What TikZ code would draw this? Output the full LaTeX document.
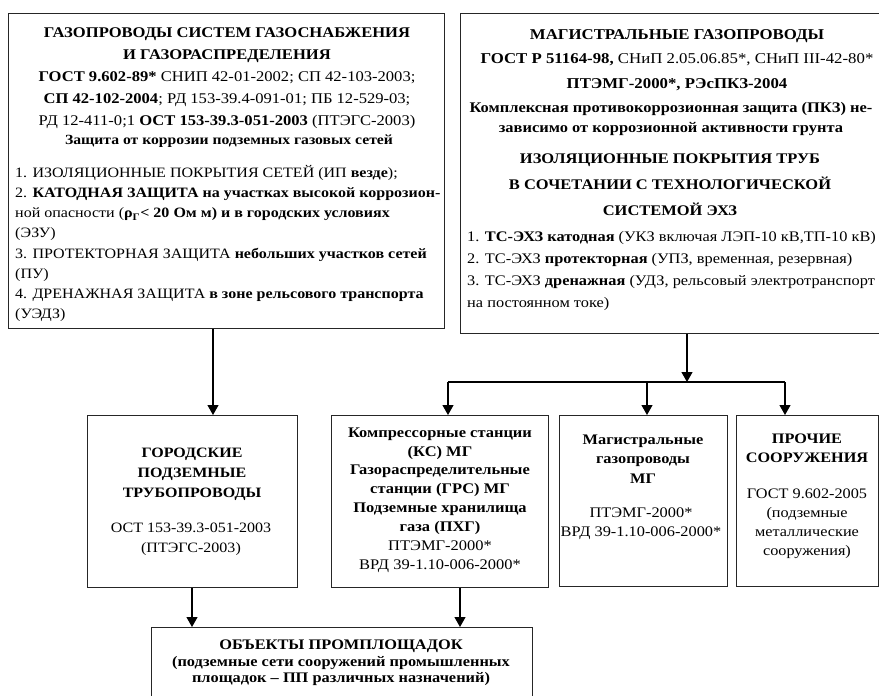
\documentclass[tikz,border=0pt]{standalone}
\usepackage{fontspec}
\setmainfont{Liberation Serif}[FakeStretch=1.12]
\usetikzlibrary{arrows.meta}
\begin{document}
\begin{tikzpicture}[x=1pt,y=-1pt,
  frame/.style={draw=black!85, line width=1.3pt, inner sep=0pt, anchor=north west},
  txt/.style={inner sep=0pt, text=black, align=center},
  arr/.style={line width=1.2pt, -{Triangle[width=11pt,length=10pt]}},
  ln/.style={line width=1.2pt}]
\useasboundingbox (0,0) rectangle (879,696);
\clip (0,0) rectangle (879,696);
% boxes
\node[frame, minimum width=436pt, minimum height=315pt] (gs) at (8,13) {};
\node[frame, minimum width=430pt, minimum height=320pt] (mg) at (460,13) {};
\node[frame, minimum width=210pt, minimum height=172pt] (gp) at (87,415) {};
\node[frame, minimum width=217pt, minimum height=172pt] (ks) at (331,415) {};
\node[frame, minimum width=168pt, minimum height=171pt] (mgb) at (559,415) {};
\node[frame, minimum width=142pt, minimum height=171pt] (pr) at (736,415) {};
\node[frame, minimum width=381pt, minimum height=90pt] (ob) at (151,627) {};
% helper coordinates
\coordinate (a1) at (213,0);
\coordinate (a2) at (687,0);
\coordinate (hl) at (0,382);
\coordinate (b1) at (448,0);
\coordinate (b2) at (647,0);
\coordinate (b3) at (785,0);
\coordinate (c1) at (192,0);
\coordinate (c2) at (460,0);
% connectors
\draw[arr] (a1 |- gs.south) -- (a1 |- gp.north);
\draw[arr] (a2 |- mg.south) -- (a2 |- hl);
\draw[ln] (b1 |- hl) -- (b3 |- hl);
\draw[arr] (b1 |- hl) -- (b1 |- ks.north);
\draw[arr] (b2 |- hl) -- (b2 |- mgb.north);
\draw[arr] (b3 |- hl) -- (b3 |- pr.north);
\draw[arr] (c1 |- gp.south) -- (c1 |- ob.north);
\draw[arr] (c2 |- ks.south) -- (c2 |- ob.north);
% left top box text
\node[txt, font=\fontsize{14.8}{22}\selectfont] (gsh) at (227,78)
 {\textbf{ГАЗОПРОВОДЫ СИСТЕМ ГАЗОСНАБЖЕНИЯ}\\
  \textbf{И ГАЗОРАСПРЕДЕЛЕНИЯ}\\
  \textbf{ГОСТ 9.602-89*} СНИП 42-01-2002; СП 42-103-2003;\\
  \textbf{СП 42-102-2004}; РД 153-39.4-091-01; ПБ 12-529-03;\\
  РД 12-411-0;1 \textbf{ОСТ 153-39.3-051-2003} (ПТЭГС-2003)};
\node[txt, font=\bfseries\fontsize{14}{18}\selectfont] (gsz) at (229,141)
 {Защита от коррозии подземных газовых сетей};
\node[txt, align=left, anchor=west, font=\fontsize{14.3}{20.1}\selectfont] (gsl) at (15,243.5)
 {1. ИЗОЛЯЦИОННЫЕ ПОКРЫТИЯ СЕТЕЙ (ИП \textbf{везде});\\
  2. \textbf{КАТОДНАЯ ЗАЩИТА на участках высокой коррозион-}\\
  ной опасности (\textbf{ρ\textsubscript{Г}< 20 Ом м) и в городских условиях}\\
  (ЭЗУ)\\
  3. ПРОТЕКТОРНАЯ ЗАЩИТА \textbf{небольших участков сетей}\\
  (ПУ)\\
  4. ДРЕНАЖНАЯ ЗАЩИТА \textbf{в зоне рельсового транспорта}\\
  (УЭДЗ)};
% right top box text
\node[txt, font=\fontsize{15}{24.5}\selectfont] (mgh) at (677,60)
 {\textbf{МАГИСТРАЛЬНЫЕ ГАЗОПРОВОДЫ}\\
  \textbf{ГОСТ Р 51164-98,} СНиП 2.05.06.85*, СНиП III-42-80*\\
  \textbf{ПТЭМГ-2000*, РЭсПКЗ-2004}};
\node[txt, font=\bfseries\fontsize{14.7}{20}\selectfont] (mgk) at (671,119)
 {Комплексная противокоррозионная защита (ПКЗ) не-\\
  зависимо от коррозионной активности грунта};
\node[txt, font=\bfseries\fontsize{14.7}{26}\selectfont] (mgi) at (670,185)
 {ИЗОЛЯЦИОННЫЕ ПОКРЫТИЯ ТРУБ\\
  В СОЧЕТАНИИ С ТЕХНОЛОГИЧЕСКОЙ\\
  СИСТЕМОЙ ЭХЗ};
\node[txt, align=left, anchor=west, font=\fontsize{14.6}{22}\selectfont] (mgl) at (467,271)
 {1. \textbf{ТС-ЭХЗ катодная} (УКЗ включая ЛЭП-10 кВ,ТП-10 кВ)\\
  2. ТС-ЭХЗ \textbf{протекторная} (УПЗ, временная, резервная)\\
  3. ТС-ЭХЗ \textbf{дренажная} (УДЗ, рельсовый электротранспорт\\
  на постоянном токе)};
% lower boxes text
\node[txt, font=\bfseries\fontsize{14.3}{20}\selectfont] (gpb) at (192,474)
 {ГОРОДСКИЕ\\ПОДЗЕМНЫЕ\\ТРУБОПРОВОДЫ};
\node[txt, font=\fontsize{14.3}{20}\selectfont] (gpr) at (191,539)
 {ОСТ 153-39.3-051-2003\\(ПТЭГС-2003)};
\node[txt, font=\fontsize{14.7}{18.9}\selectfont] (kst) at (440,500)
 {\textbf{Компрессорные станции}\\
  \textbf{(КС) МГ}\\
  \textbf{Газораспределительные}\\
  \textbf{станции (ГРС) МГ}\\
  \textbf{Подземные хранилища}\\
  \textbf{газа (ПХГ)}\\
  ПТЭМГ-2000*\\
  ВРД 39-1.10-006-2000*};
\node[txt, font=\bfseries\fontsize{14.6}{19.5}\selectfont] (mgbb) at (643,459)
 {Магистральные\\газопроводы\\МГ};
\node[txt, font=\fontsize{14.6}{19}\selectfont] (mgbr) at (641,523.5)
 {ПТЭМГ-2000*\\ВРД 39-1.10-006-2000*};
\node[txt, font=\bfseries\fontsize{14.5}{19}\selectfont] (prb) at (807,448.5)
 {ПРОЧИЕ\\СООРУЖЕНИЯ};
\node[txt, font=\fontsize{14.5}{19}\selectfont] (prr) at (807,523.5)
 {ГОСТ 9.602-2005\\(подземные\\металлические\\сооружения)};
\node[txt, font=\bfseries\fontsize{14.6}{17}\selectfont] (obt) at (341,646)
 {ОБЪЕКТЫ ПРОМПЛОЩАДОК};
\node[txt, font=\bfseries\fontsize{14.6}{16.5}\selectfont] (obs) at (341,671)
 {(подземные сети сооружений промышленных\\площадок – ПП различных назначений)};
\end{tikzpicture}
\end{document}
